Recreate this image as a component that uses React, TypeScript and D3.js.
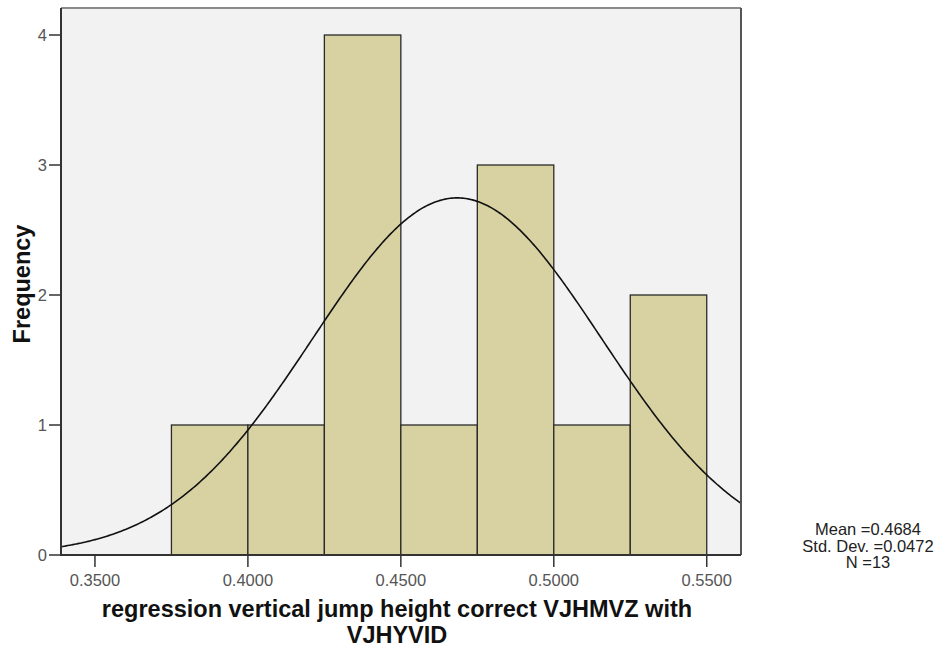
import React from "react";
import * as d3 from "d3";

// Histogram bins (lower edge, upper edge, count)
const binStarts = [0.375, 0.4, 0.425, 0.45, 0.475, 0.5, 0.525];
const binWidth = 0.025;
const counts = [1, 1, 4, 1, 3, 1, 2];
const xTicks = [0.35, 0.4, 0.45, 0.5, 0.55];
const yTicks = [0, 1, 2, 3, 4];
const mean = 0.4684;
const stdDev = 0.0472;
const n = 13;
const statLines = ["Mean =0.4684", "Std. Dev. =0.0472", "N =13"];
const xTitleLines = ["regression vertical jump height correct VJHMVZ with", "VJHYVID"];

export default function App() {
  const W = 942, H = 647;
  const left = 61, right = 741, top = 8, bottom = 555;
  const x = d3.scaleLinear().domain([0.3389, 0.5612]).range([left, right]);
  const y = d3.scaleLinear().domain([0, 4.2077]).range([bottom, top]);

  const pdf = (v: number) =>
    (n * binWidth) / (stdDev * Math.sqrt(2 * Math.PI)) *
    Math.exp(-0.5 * ((v - mean) / stdDev) ** 2);
  const pts = d3.range(0, 401).map((i) => {
    const v = 0.3389 + (0.5612 - 0.3389) * (i / 400);
    return [x(v), y(pdf(v))] as [number, number];
  });
  const line = d3.line()(pts) || "";

  const font = "'Liberation Sans', Arial, sans-serif";

  return (
    <svg width={W} height={H} style={{ position: "absolute", left: 0, top: 0 }}>
      <rect x={0} y={0} width={W} height={H} fill="#ffffff" />
      <rect x={left} y={top} width={right - left} height={bottom - top} fill="#f2f2f2" />
      {binStarts.map((s, i) => (
        <rect
          key={i}
          x={x(s)}
          y={y(counts[i])}
          width={x(s + binWidth) - x(s)}
          height={bottom - y(counts[i])}
          fill="#d8d2a2"
          stroke="#2a2a2a"
          strokeWidth={1.3}
        />
      ))}
      <clipPath id="plotClip">
        <rect x={left} y={top} width={right - left} height={bottom - top} />
      </clipPath>
      <path d={line} fill="none" stroke="#111" strokeWidth={1.6} clipPath="url(#plotClip)" />
      {/* frame */}
      <line x1={left} y1={top} x2={right} y2={top} stroke="#8a8a8a" strokeWidth={2} />
      <line x1={right} y1={top} x2={right} y2={bottom} stroke="#555" strokeWidth={2} />
      <line x1={left} y1={top} x2={left} y2={bottom + 1} stroke="#333" strokeWidth={2} />
      <line x1={left - 1} y1={bottom} x2={right} y2={bottom} stroke="#333" strokeWidth={2} />
      {/* y axis */}
      {yTicks.map((t) => (
        <g key={t}>
          <line x1={49} x2={left} y1={y(t)} y2={y(t)} stroke="#333" strokeWidth={1.5} />
          <text x={47} y={y(t)} dy="0.36em" textAnchor="end" fontFamily={font} fontSize={16.5} fill="#555">
            {t}
          </text>
        </g>
      ))}
      {/* x axis */}
      {xTicks.map((t) => (
        <g key={t}>
          <line x1={x(t)} x2={x(t)} y1={bottom} y2={bottom + 12} stroke="#333" strokeWidth={1.5} />
          <text x={x(t)} y={580} dy="0.36em" textAnchor="middle" fontFamily={font} fontSize={16.5} fill="#555">
            {d3.format(".4f")(t)}
          </text>
        </g>
      ))}
      <text
        transform={`translate(22,284) rotate(-90)`}
        textAnchor="middle"
        dy="0.36em"
        fontFamily={font}
        fontSize={23.5}
        fontWeight="bold"
        fill="#111"
      >
        Frequency
      </text>
      {xTitleLines.map((l, i) => (
        <text key={i} x={397} y={617 + i * 26} textAnchor="middle" fontFamily={font} fontSize={23.5} fontWeight="bold" fill="#111">
          {l}
        </text>
      ))}
      {statLines.map((l, i) => (
        <text key={i} x={868} y={529.5 + i * 16.5} dy="0.36em" textAnchor="middle" fontFamily={font} fontSize={16.5} fill="#222">
          {l}
        </text>
      ))}
    </svg>
  );
}
